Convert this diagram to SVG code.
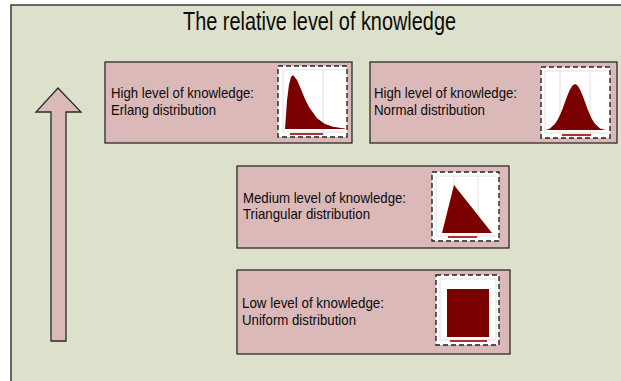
<svg xmlns="http://www.w3.org/2000/svg" width="621" height="381" viewBox="0 0 621 381">
<style>
.t{font-family:"Liberation Sans",Arial,sans-serif;fill:#0a0a0a;}
.lbl{font-size:14.5px;}
.box{fill:#dcb9b9;stroke:#2a2a2a;stroke-width:1.3;}
.frame{fill:#fff;stroke:#222;stroke-width:1.4;stroke-dasharray:5,3;}
.grid{stroke:#d8d8d8;stroke-width:0.8;fill:none;}
.dist{fill:#7b0000;}
.bar{fill:#b03030;}
</style>
<rect x="11" y="5" width="620" height="390" fill="#dde1cb" stroke="#3a3a3a" stroke-width="1.5"/>
<text class="t" x="319.5" y="30" font-size="25" text-anchor="middle" textLength="273" lengthAdjust="spacingAndGlyphs">The relative level of knowledge</text>

<g id="arrow">
<polygon points="58,88 81,112 66,112 66,341 51,341 51,112 36,112" fill="#dcb9b9" stroke="#2a2a2a" stroke-width="1.3"/>
</g>

<g id="erlang">
<rect class="box" x="105" y="62" width="247" height="81"/>
<text class="t lbl" x="111" y="98" textLength="143" lengthAdjust="spacingAndGlyphs">High level of knowledge:</text>
<text class="t lbl" x="111" y="115" textLength="105" lengthAdjust="spacingAndGlyphs">Erlang distribution</text>
<rect class="frame" x="278" y="66" width="69" height="71"/>
<path class="grid" d="M283,70 H344 M283,70 V132 M323,70 V132 M283,132 H344"/>
<path class="dist" d="M285,129 L287,100.4 L289,84.5 L291,77 L293,75 L297,79.9 L301,89.3 L305,98.9 L309,107.1 L317,118.3 L325,124.1 L333,126.8 L341,128.1 L345,128.5 L345,129 Z"/>
<rect class="bar" x="290" y="133" width="33" height="2"/>
</g>

<g id="normal">
<rect class="box" x="370" y="62" width="247" height="81"/>
<text class="t lbl" x="374" y="98" textLength="143" lengthAdjust="spacingAndGlyphs">High level of knowledge:</text>
<text class="t lbl" x="374" y="115" textLength="111" lengthAdjust="spacingAndGlyphs">Normal distribution</text>
<rect class="frame" x="541" y="67" width="69" height="71"/>
<path class="grid" d="M545,71 H607 M545,71 V133 M560,71 V133 M590,71 V133 M545,133 H607"/>
<path class="dist" d="M546,130 L550,128.5 L555,123.8 L557.5,120.1 L560,115.1 L562.5,108.9 L565,102.1 L567.5,95.3 L570,89.4 L572.5,85.4 L575,84 L577.5,85.4 L580,89.4 L582.5,95.3 L585,102.1 L587.5,108.9 L590,115.1 L592.5,120.1 L595,123.8 L600,128.5 L606,130 Z"/>
<rect class="bar" x="562" y="134" width="29" height="2"/>
</g>

<g id="triangular">
<rect class="box" x="237" y="166" width="272" height="82"/>
<text class="t lbl" x="243" y="203" textLength="163" lengthAdjust="spacingAndGlyphs">Medium level of knowledge:</text>
<text class="t lbl" x="243" y="219" textLength="127" lengthAdjust="spacingAndGlyphs">Triangular distribution</text>
<rect class="frame" x="432" y="172" width="67" height="69"/>
<path class="grid" d="M436,176 H496 M436,176 V236 M454,176 V236 M478,176 V236 M436,236 H496"/>
<polygon class="dist" points="454,185 442,233 492,233"/>
<rect class="bar" x="448" y="236" width="29" height="2"/>
</g>

<g id="uniform">
<rect class="box" x="237" y="270" width="273" height="84"/>
<text class="t lbl" x="242" y="308" textLength="142" lengthAdjust="spacingAndGlyphs">Low level of knowledge:</text>
<text class="t lbl" x="242" y="325" textLength="114" lengthAdjust="spacingAndGlyphs">Uniform distribution</text>
<rect class="frame" x="436" y="275" width="63" height="70"/>
<path class="grid" d="M440,279 H496 M440,279 V340 M496,279 V340 M440,340 H496"/>
<rect class="dist" x="447" y="289" width="42" height="48"/>
<rect class="bar" x="450" y="340" width="37" height="2"/>
</g>
</svg>
